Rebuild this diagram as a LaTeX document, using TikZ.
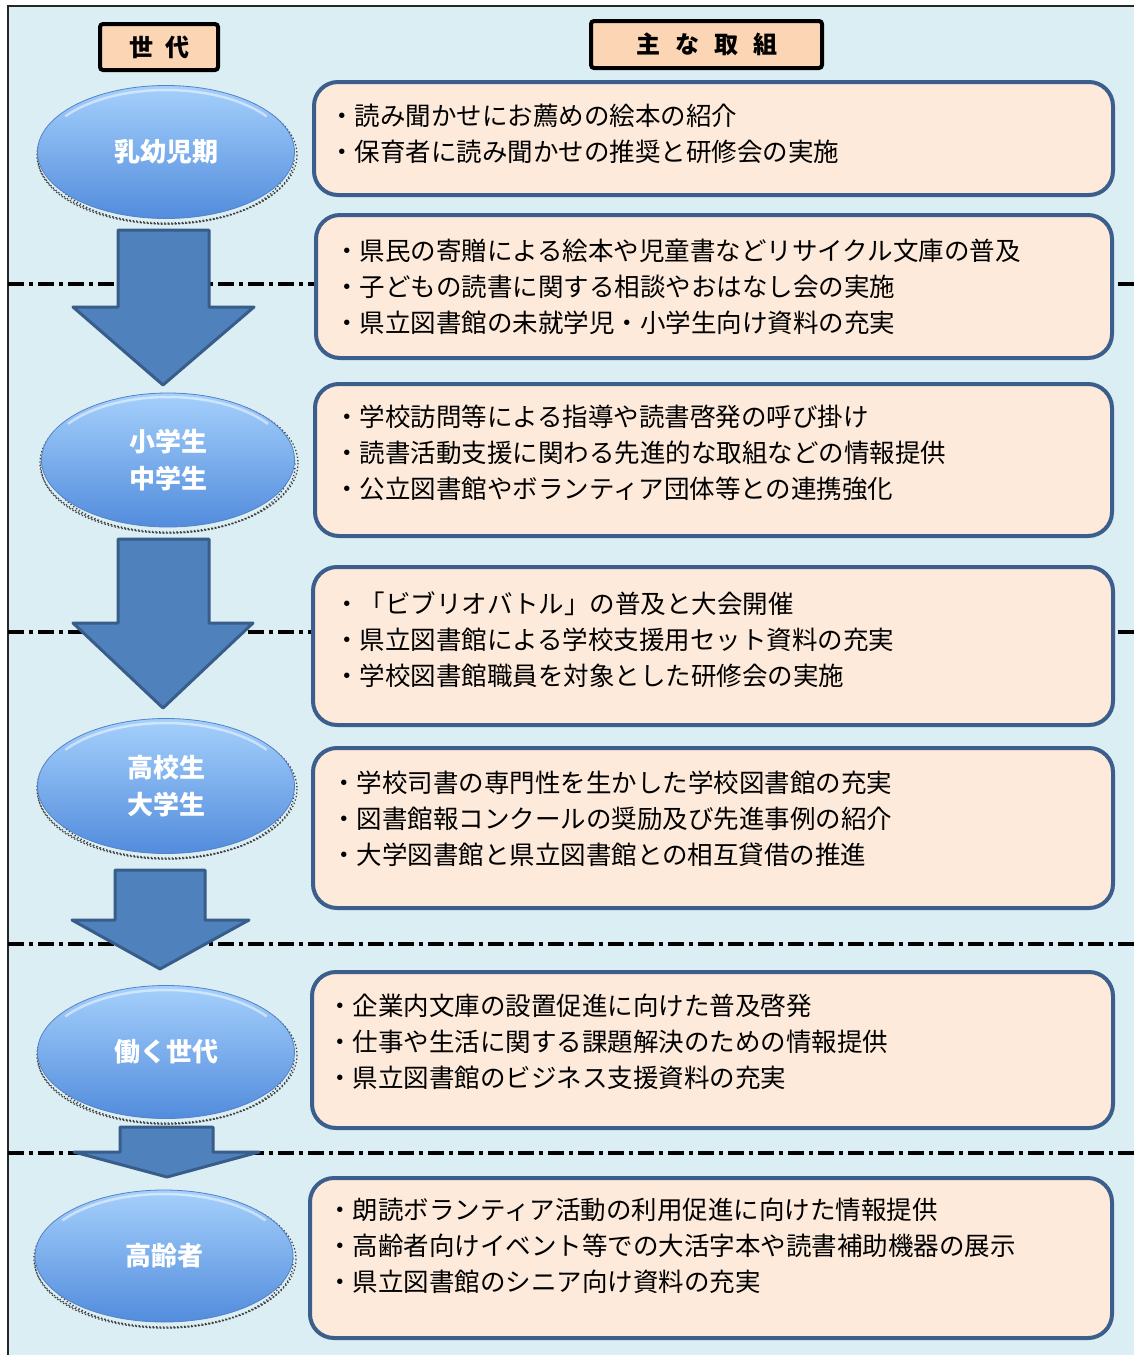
\documentclass[tikz,border=0pt]{standalone}
\usepackage{fontspec}
\newfontfamily\jp{Noto Sans CJK JP}
\usetikzlibrary{shapes.geometric}
\definecolor{bg}{RGB}{219,238,243}
\definecolor{boxfill}{RGB}{253,234,218}
\definecolor{boxline}{RGB}{59,94,140}
\definecolor{hdrfill}{RGB}{252,213,180}
\definecolor{arrfill}{RGB}{79,129,189}
\definecolor{arrline}{RGB}{56,93,138}
\definecolor{elltop}{RGB}{165,208,252}
\definecolor{ellmid}{RGB}{128,182,243}
\definecolor{ellbot}{RGB}{82,140,220}
\definecolor{ellrim}{RGB}{85,130,200}
\tikzset{
  frame/.style={draw=black!85, line width=2},
  divider/.style={draw=black, line width=3.3, dash pattern=on 16pt off 5pt on 4pt off 5pt},
  hdr/.style={draw=black, line width=4, fill=hdrfill, rounded corners=3, inner sep=0,
    font=\jp\bfseries\fontsize{24}{28}\selectfont},
  gen/.style={ellipse, inner sep=0, top color=elltop, middle color=ellmid, bottom color=ellbot,
    draw=ellrim, line width=0.8, text=white, align=center,
    font=\jp\bfseries\fontsize{26}{37}\selectfont},
  halo/.style={draw=black!75, line width=1.3, dash pattern=on 1.3pt off 2.2pt},
  blockarrow/.style={fill=arrfill, draw=arrline, line width=3, line join=round},
  box/.style={draw=boxline, line width=4, fill=boxfill, rounded corners=24, inner sep=0},
  txt/.style={anchor=west, align=left, inner sep=0, text=black,
    font=\jp\fontsize{25.5}{36}\selectfont}
}
\begin{document}
\begin{tikzpicture}[x=1pt,y=-1pt]
\useasboundingbox (0,0) rectangle (1134,1355);
% background and frame
\fill[bg] (8,6) rectangle (1134,1355);
\coordinate (tl) at (8,6);
\coordinate (tr) at (1134,6);
\coordinate (bl) at (8,1355);
\draw[frame] (bl) -- (tl) -- (tr);
% dividers
\foreach \yy [count=\i] in {284,632,944,1153}{
  \coordinate (dl\i) at (8,\yy);
  \coordinate (dr\i) at (1134,\yy);
  \draw[divider] (dl\i) -- (dr\i);
}
% halos under ellipses
\foreach \cx/\cy/\rx/\ry in {166/152/128/66, 168/460/127/67, 166/786/128/67, 166/1052/128/66, 164/1256/129/66}{
  \draw[halo] (\cx+1,\cy+3) ellipse ({\rx+2} and {\ry+2});
  \draw[halo, dash phase=1.5pt] (\cx,\cy+6) ellipse ({\rx} and {\ry});
  \draw[halo, dash phase=0.8pt] (\cx+2,\cy+9) ellipse ({\rx-8} and {\ry-3});
}
% generation ellipses
\node[gen, minimum width=257, minimum height=133] (g1) at (166,152) {乳幼児期};
\node[gen, minimum width=253, minimum height=134] (g2) at (168,460) {小学生\\中学生};
\node[gen, minimum width=257, minimum height=135] (g3) at (166,786) {高校生\\大学生};
\node[gen, minimum width=257, minimum height=133] (g4) at (166,1052) {働く世代};
\node[gen, minimum width=258, minimum height=132] (g5) at (164,1256) {高齢者};
% top highlights
\foreach \cx/\cy/\rx/\ry in {166/152/128/66, 168/460/127/67, 166/786/128/67, 166/1052/128/66, 164/1256/129/66}{
  \draw[white, opacity=0.5, line width=2.5] ([shift={(215:{\rx-5} and {\ry-4})}]\cx,\cy) arc[start angle=215, end angle=325, x radius={\rx-5}, y radius={\ry-4}];
}
% block arrows
\draw[blockarrow] (118,230) -- (209,230) -- (209,307) -- (254,307) -- (163,385) -- (73,307) -- (118,307) -- cycle;
\draw[blockarrow] (118,539) -- (209,539) -- (209,623) -- (253,623) -- (163,708) -- (73,623) -- (118,623) -- cycle;
\draw[blockarrow] (115,870) -- (205,870) -- (205,920) -- (249,920) -- (160,969) -- (72,920) -- (115,920) -- cycle;
\draw[blockarrow] (120,1127) -- (213,1127) -- (213,1152) -- (259,1152) -- (167,1177) -- (74,1152) -- (120,1152) -- cycle;
% boxes
\node[box, minimum width=799, minimum height=113] (b1) at (713.5,138.5) {};
\node[box, minimum width=796, minimum height=143] (b2) at (714,286.5) {};
\node[box, minimum width=797, minimum height=152] (b3) at (713.5,460) {};
\node[box, minimum width=800, minimum height=158] (b4) at (713,646) {};
\node[box, minimum width=800, minimum height=160] (b5) at (713,828) {};
\node[box, minimum width=801, minimum height=156] (b6) at (712.5,1050) {};
\node[box, minimum width=802, minimum height=160] (b7) at (711,1258) {};
% texts
\node[txt] (t1) at (329,134) {・読み聞かせにお薦めの絵本の紹介\\・保育者に読み聞かせの推奨と研修会の実施};
\node[txt] (t2) at (334,287) {・県民の寄贈による絵本や児童書などリサイクル文庫の普及\\・子どもの読書に関する相談やおはなし会の実施\\・県立図書館の未就学児・小学生向け資料の充実};
\node[txt] (t3) at (334,453) {・学校訪問等による指導や読書啓発の呼び掛け\\・読書活動支援に関わる先進的な取組などの情報提供\\・公立図書館やボランティア団体等との連携強化};
\node[txt] (t4) at (334,640) {・「ビブリオバトル」の普及と大会開催\\・県立図書館による学校支援用セット資料の充実\\・学校図書館職員を対象とした研修会の実施};
\node[txt] (t5) at (331,819) {・学校司書の専門性を生かした学校図書館の充実\\・図書館報コンクールの奨励及び先進事例の紹介\\・大学図書館と県立図書館との相互貸借の推進};
\node[txt] (t6) at (327,1042) {・企業内文庫の設置促進に向けた普及啓発\\・仕事や生活に関する課題解決のための情報提供\\・県立図書館のビジネス支援資料の充実};
\node[txt] (t7) at (327,1246) {・朗読ボランティア活動の利用促進に向けた情報提供\\・高齢者向けイベント等での大活字本や読書補助機器の展示\\・県立図書館のシニア向け資料の充実};
% headers
\node[hdr, minimum width=118, minimum height=46] (h1) at (159,47) {世\hspace{12pt}代};
\node[hdr, minimum width=231, minimum height=47] (h2) at (706.5,44.5) {主\hspace{15pt}な\hspace{15pt}取\hspace{15pt}組};
\end{tikzpicture}
\end{document}
